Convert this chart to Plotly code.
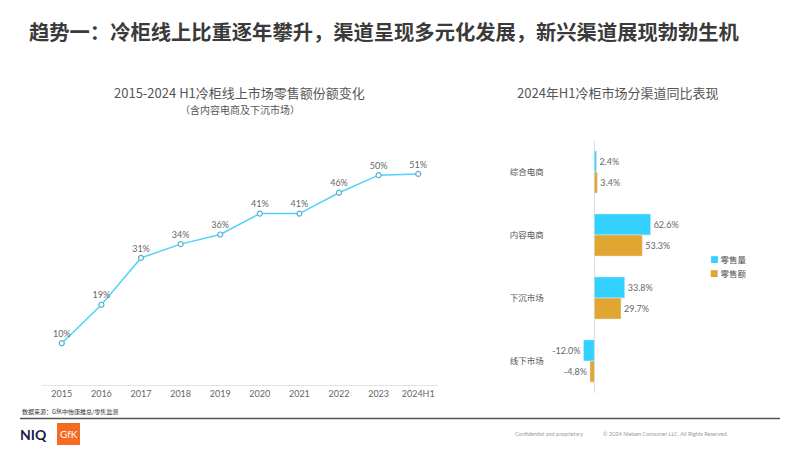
import plotly.graph_objects as go

# ---------------- data ----------------
years = ["2015", "2016", "2017", "2018", "2019", "2020", "2021", "2022", "2023", "2024H1"]
online_share = [10.0, 19.2, 30.4, 33.7, 36.0, 41.0, 41.0, 46.0, 50.2, 50.5]
online_share_labels = ["10%", "19%", "31%", "34%", "36%", "41%", "41%", "46%", "50%", "51%"]

channels = ["综合电商", "内容电商", "下沉市场", "线下市场"]
volume_yoy = [2.4, 62.6, 33.8, -12.0]
value_yoy = [3.4, 53.3, 29.7, -4.8]
series_names = ["零售量", "零售额"]

W, H = 800, 449
def px_x(p): return p / W
def px_y(p): return 1 - p / H

FONT = "Lato, 'Noto Sans CJK SC', sans-serif"
CJK = "'Noto Sans CJK SC', Lato, sans-serif"
CYAN = "#33D1FF"
ORANGE = "#E1A531"
LINE = "#4FD3F8"
series_colors = [CYAN, ORANGE]

fig = go.Figure()

fig.add_trace(go.Scatter(
    x=years, y=online_share, mode="lines+markers+text",
    text=online_share_labels, textposition="top center",
    textfont=dict(family=FONT, size=9, color="#666666"),
    line=dict(color=LINE, width=1.5),
    marker=dict(symbol="circle", size=5, color="white", line=dict(color="#5AAFCF", width=1.2)),
    xaxis="x", yaxis="y", showlegend=False, cliponaxis=False,
))

for name, vals, col in zip(series_names, [volume_yoy, value_yoy], series_colors):
    fig.add_trace(go.Bar(
        y=channels, x=vals, orientation="h", name=name,
        marker=dict(color=col), text=[f"{v:.1f}%" for v in vals],
        textposition="outside", textfont=dict(family=FONT, size=9, color="#666666"),
        xaxis="x2", yaxis="y2", cliponaxis=False, showlegend=False,
    ))

fig.update_layout(
    width=W, height=H, margin=dict(l=0, r=0, t=0, b=0),
    paper_bgcolor="white", plot_bgcolor="white",
    font=dict(family=FONT, color="#555555"),
    barmode="group", bargap=0.33, bargroupgap=0,
    xaxis=dict(domain=[px_x(42), px_x(438)], type="category", range=[-0.5, 9.5],
               showline=True, linecolor="#e3e3e3", linewidth=1,
               showgrid=False, zeroline=False, ticks="",
               tickfont=dict(family=FONT, size=9, color="#666666")),
    yaxis=dict(domain=[px_y(385), px_y(134.2)], range=[0, 60],
               visible=False, showgrid=False, zeroline=False),
    xaxis2=dict(domain=[px_x(544.8), px_x(666.3)], range=[-55, 80],
                visible=True, showticklabels=False, showgrid=False,
                zeroline=True, zerolinecolor="#dddddd", zerolinewidth=1,
                showline=False, anchor="y2"),
    yaxis2=dict(domain=[px_y(392.5), px_y(140.5)], type="category",
                range=[3.5, -0.5], showgrid=False, showline=False,
                ticks="", anchor="x2",
                tickfont=dict(family=CJK, size=8.5, color="#555555")),
)

anns = [
    dict(text="<b>趋势一：冷柜线上比重逐年攀升，渠道呈现多元化发展，新兴渠道展现勃勃生机</b>",
         x=px_x(27), y=px_y(31), xanchor="left", yanchor="middle",
         font=dict(family=CJK, size=20.3, color="#3a3a3a")),
    dict(text="2015-2024 H1冷柜线上市场零售额份额变化",
         x=px_x(239), y=px_y(92.5), xanchor="center", yanchor="middle",
         font=dict(family=CJK, size=13, color="#555555")),
    dict(text="（含内容电商及下沉市场）",
         x=px_x(240), y=px_y(109), xanchor="center", yanchor="middle",
         font=dict(family=CJK, size=10, color="#555555")),
    dict(text="2024年H1冷柜市场分渠道同比表现",
         x=px_x(618), y=px_y(92), xanchor="center", yanchor="middle",
         font=dict(family=CJK, size=13, color="#555555")),
    dict(text="数据来源：GfK中怡康推总/零售监测",
         x=px_x(20), y=px_y(411.5), xanchor="left", yanchor="middle",
         font=dict(family=CJK, size=6, color="#333333")),
    dict(text="<b>NIQ</b>",
         x=px_x(18), y=px_y(434), xanchor="left", yanchor="middle",
         font=dict(family="Lato, sans-serif", size=14, color="#16194A")),
    dict(text="GfK",
         x=px_x(68.5), y=px_y(434), xanchor="center", yanchor="middle",
         font=dict(family="Lato, sans-serif", size=10, color="white")),
    dict(text="Confidential and proprietary",
         x=px_x(513), y=px_y(434), xanchor="left", yanchor="middle",
         font=dict(family=FONT, size=5.5, color="#9a9a9a")),
    dict(text="© 2024 Nielsen Consumer LLC. All Rights Reserved.",
         x=px_x(601), y=px_y(434), xanchor="left", yanchor="middle",
         font=dict(family=FONT, size=5.5, color="#9a9a9a")),
]
# legend (small square keys as in the reference)
for i, (name, col) in enumerate(zip(series_names, series_colors)):
    anns.append(dict(
        text=f'<span style="color:{col}">■</span> {name}',
        x=px_x(708), y=px_y(259 + 14 * i), xanchor="left", yanchor="middle",
        font=dict(family=CJK, size=8.5, color="#555555")))
for a in anns:
    a.update(xref="paper", yref="paper", showarrow=False)
fig.update_layout(annotations=anns)

fig.update_layout(shapes=[
    dict(type="line", xref="paper", yref="paper",
         x0=px_x(20), x1=px_x(780), y0=px_y(418.5), y1=px_y(418.5),
         line=dict(color="#555555", width=1.5)),
    dict(type="rect", xref="paper", yref="paper",
         x0=px_x(57), x1=px_x(80), y0=px_y(445), y1=px_y(423),
         fillcolor="#F36C21", line=dict(width=0)),
])

fig.write_html("out.html", config={"displayModeBar": False},
               post_script="document.body.style.margin='0';document.body.style.padding='0';")
